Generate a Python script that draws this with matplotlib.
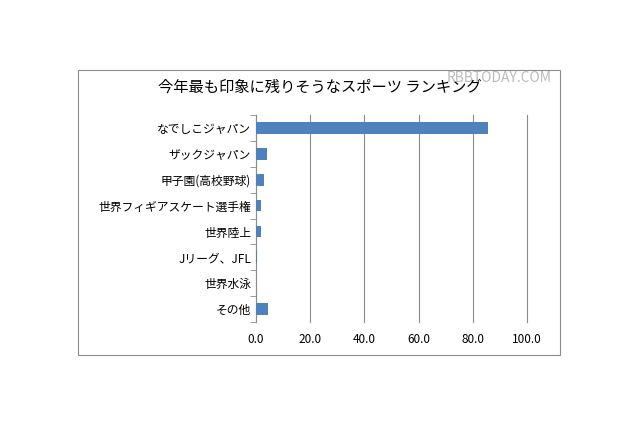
import matplotlib.pyplot as plt

plt.rcParams['font.family'] = 'Noto Sans CJK JP'

categories = ["なでしこジャパン", "ザックジャパン", "甲子園(高校野球)", "世界フィギアスケート選手権",
              "世界陸上", "Jリーグ、JFL", "世界水泳", "その他"]
values = [85.6, 3.9, 2.9, 1.8, 1.7, 0.5, 0.1, 4.4]
xticks = [0, 20, 40, 60, 80, 100]

fig = plt.figure(figsize=(6.4, 4.26), dpi=100)
# outer chart border
fig.patches.append(plt.Rectangle((78/640, 1-355/426), 482/640, 285/426,
                                 transform=fig.transFigure, fill=False, ec='#8c8c8c', lw=0.8))
ax = fig.add_axes([256/640, 1-322/426, 271/640, 207/426])
y = list(range(len(categories)))[::-1]
ax.barh(y, values, height=0.45, color='#4f81bd', zorder=3)
ax.set_xlim(0, 100)
ax.set_ylim(-0.5, len(categories)-0.5)
ax.set_xticks(xticks)
ax.set_xticklabels([f"{v:.1f}" for v in xticks], fontsize=8.5)
ax.set_yticks(y)
ax.set_yticklabels(categories, fontsize=8.5)
ax.set_yticks([i + 0.5 for i in range(-1, len(categories))], minor=True)
ax.tick_params(axis='y', which='major', length=0)
ax.tick_params(axis='y', which='minor', length=4, color='#8c8c8c')
ax.tick_params(axis='x', length=0, pad=8)
ax.grid(axis='x', color='#8c8c8c', lw=0.8, zorder=0)
for gl in ax.get_xgridlines():
    gl.set_clip_on(False)
for s in ['top', 'right', 'bottom']:
    ax.spines[s].set_visible(False)
ax.spines['left'].set_color('#8c8c8c')
fig.text(0.5, 1-87/426, "今年最も印象に残りそうなスポーツ ランキング", ha='center', va='center', fontsize=11)
fig.text(552/640, 1-78/426, "RBBTODAY.COM", ha='right', va='center', fontsize=10, color='#bbbbbb')
fig.savefig("out.png", dpi=100)
